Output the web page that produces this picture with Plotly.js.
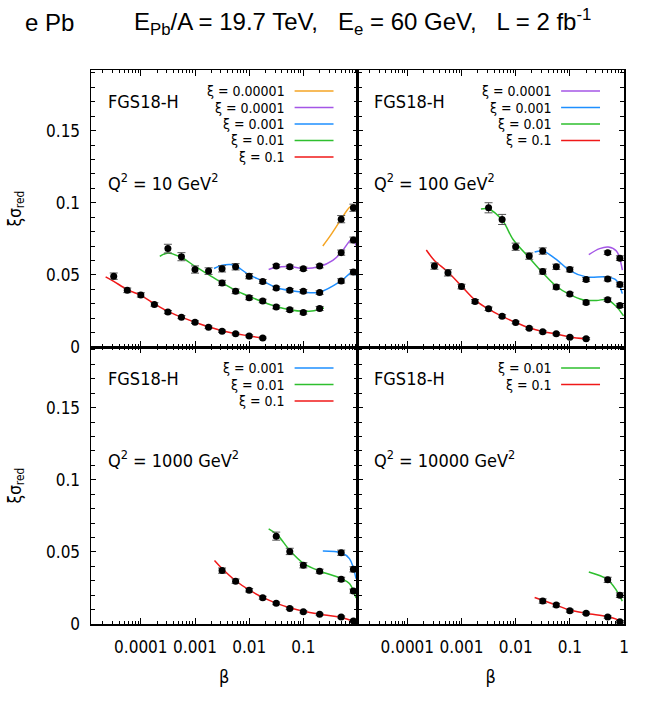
<!DOCTYPE html>
<html><head><meta charset="utf-8">
<script src="https://cdn.plot.ly/plotly-3.0.1.min.js"></script>
<style>html,body{margin:0;padding:0;background:#fff}#chart{width:648px;height:709px}</style>
</head><body><div id="chart"></div>
<script>
// ---------- Q2 = 10 GeV2 ----------
const q10_r_beta = [3.16e-5,5.62e-5,1e-4,1.78e-4,3.16e-4,5.62e-4,1e-3,1.78e-3,3.16e-3,5.62e-3,0.01,0.0178];
const q10_r_val  = [0.0491,0.0393,0.0361,0.0295,0.0242,0.0207,0.0172,0.0137,0.0109,0.0091,0.0077,0.0063];
const q10_r_err  = [0.0022,0.0016,0.0015,0.0012,0.0011,0.0010,0.0009,0.0008,0.0008,0.0007,0.0007,0.0006];
const q10_r_cb   = [2.24e-5,3.16e-5,5.62e-5,1e-4,1.78e-4,3.16e-4,5.62e-4,1e-3,1.78e-3,3.16e-3,5.62e-3,0.01,0.0204];
const q10_r_cv   = [0.0486,0.0455,0.0398,0.0358,0.0300,0.0247,0.0207,0.0172,0.0140,0.0113,0.0092,0.0077,0.0058];

const q10_g_beta = [3.16e-4,5.62e-4,1e-3,1.78e-3,3.16e-3,5.62e-3,0.01,0.0178,0.0316,0.0562,0.1,0.2];
const q10_g_val  = [0.0682,0.0626,0.0537,0.0526,0.0444,0.0386,0.0342,0.0319,0.0277,0.0258,0.0240,0.0267];
const q10_g_err  = [0.0030,0.0028,0.0025,0.0023,0.0018,0.0016,0.0014,0.0012,0.0012,0.0012,0.0012,0.0014];
const q10_g_cb   = [2.24e-4,3.16e-4,5.62e-4,1e-3,1.78e-3,3.16e-3,5.62e-3,0.01,0.0178,0.0316,0.0562,0.1,0.158,0.24];
const q10_g_cv   = [0.0628,0.0652,0.0620,0.0560,0.0502,0.0444,0.0393,0.0351,0.0312,0.0281,0.0258,0.0247,0.0252,0.0270];

const q10_b_beta = [3.16e-3,5.62e-3,0.01,0.0178,0.0316,0.0562,0.1,0.2,0.5,0.84];
const q10_b_val  = [0.0542,0.0556,0.0491,0.0454,0.0409,0.0393,0.0386,0.0377,0.0458,0.0519];
const q10_b_err  = [0.0022,0.0022,0.0018,0.0014,0.0012,0.0012,0.0012,0.0012,0.0015,0.0018];
const q10_b_cb   = [2.24e-3,3.16e-3,4.47e-3,5.62e-3,0.01,0.0178,0.0316,0.0562,0.1,0.2,0.5,0.79,0.95];
const q10_b_cv   = [0.0544,0.0566,0.0572,0.0563,0.0500,0.0458,0.0412,0.0391,0.0380,0.0380,0.0458,0.0516,0.0498];

const q10_p_beta = [0.0316,0.0562,0.1,0.2,0.5,0.84];
const q10_p_val  = [0.0561,0.0556,0.0542,0.0561,0.0654,0.0742];
const q10_p_err  = [0.0012,0.0012,0.0012,0.0012,0.0018,0.0020];
const q10_p_cb   = [0.0229,0.0316,0.0562,0.1,0.2,0.35,0.5,0.7,0.8,0.96];
const q10_p_cv   = [0.0537,0.0552,0.0558,0.0545,0.0558,0.0600,0.0655,0.0730,0.0745,0.0700];

const q10_o_beta = [0.5,0.84];
const q10_o_val  = [0.0886,0.0965];
const q10_o_err  = [0.0025,0.0025];
const q10_o_cb   = [0.229,0.32,0.5,0.7,0.85,0.96];
const q10_o_cv   = [0.0700,0.0775,0.0886,0.0965,0.0985,0.0970];

// ---------- Q2 = 100 GeV2 ----------
const q100_r_beta = [3.16e-4,5.62e-4,1e-3,1.78e-3,3.16e-3,5.62e-3,0.01,0.0178,0.0316,0.0562,0.1,0.2];
const q100_r_val  = [0.0561,0.0514,0.0419,0.0316,0.0265,0.0214,0.0170,0.0130,0.0105,0.0091,0.0067,0.0058];
const q100_r_err  = [0.0022,0.0022,0.0016,0.0013,0.0012,0.0010,0.0009,0.0008,0.0008,0.0007,0.0007,0.0007];
const q100_r_cb   = [2.24e-4,3.16e-4,5.62e-4,1e-3,1.78e-3,3.16e-3,5.62e-3,0.01,0.0178,0.0316,0.0562,0.1,0.2];
const q100_r_cv   = [0.0672,0.0600,0.0520,0.0422,0.0325,0.0262,0.0212,0.0170,0.0133,0.0107,0.0090,0.0070,0.0057];

const q100_g_beta = [3.16e-3,5.62e-3,0.01,0.0178,0.0316,0.0562,0.1,0.2,0.5,0.84];
const q100_g_val  = [0.0965,0.0884,0.0695,0.0630,0.0523,0.0416,0.0367,0.0309,0.0328,0.0288];
const q100_g_err  = [0.0035,0.0035,0.0025,0.0022,0.0018,0.0015,0.0012,0.0012,0.0012,0.0014];
const q100_g_cb   = [2.29e-3,3.16e-3,5.75e-3,8.9e-3,0.0178,0.0316,0.0562,0.1,0.174,0.31,0.49,0.72,0.98];
const q100_g_cv   = [0.0956,0.0956,0.0875,0.0747,0.0619,0.0514,0.0421,0.0363,0.0328,0.0323,0.0328,0.0281,0.0216];

const q100_b_beta = [0.0316,0.0562,0.1,0.2,0.5,0.84];
const q100_b_val  = [0.0665,0.0556,0.0537,0.0468,0.0472,0.0433];
const q100_b_err  = [0.0022,0.0018,0.0016,0.0014,0.0014,0.0016];
const q100_b_cb   = [0.0224,0.0316,0.0562,0.1,0.2,0.49,0.72,0.93];
const q100_b_cv   = [0.0658,0.0665,0.0607,0.0530,0.0486,0.0486,0.0463,0.0370];

const q100_p_beta = [0.5,0.84];
const q100_p_val  = [0.0654,0.0616];
const q100_p_err  = [0.0012,0.0016];
const q100_p_cb   = [0.224,0.355,0.513,0.724,0.933];
const q100_p_cv   = [0.0640,0.0682,0.0693,0.0665,0.0533];

// ---------- Q2 = 1000 GeV2 ----------
const q1000_r_beta = [3.16e-3,5.62e-3,0.01,0.0178,0.0316,0.0562,0.1,0.2,0.5,0.84];
const q1000_r_val  = [0.0370,0.0297,0.0234,0.0182,0.0143,0.0108,0.0085,0.0067,0.0048,0.0021];
const q1000_r_err  = [0.0018,0.0015,0.0012,0.0010,0.0009,0.0008,0.0008,0.0007,0.0007,0.0008];
const q1000_r_cb   = [2.29e-3,3.16e-3,5.62e-3,0.01,0.0178,0.0316,0.0562,0.1,0.2,0.4,0.63,0.94];
const q1000_r_cv   = [0.0441,0.0385,0.0300,0.0236,0.0185,0.0145,0.0112,0.0088,0.0068,0.0052,0.0035,0.0011];

const q1000_g_beta = [0.0316,0.0562,0.1,0.2,0.5,0.84];
const q1000_g_val  = [0.0609,0.0503,0.0407,0.0366,0.0310,0.0228];
const q1000_g_err  = [0.0028,0.0022,0.0018,0.0014,0.0014,0.0014];
const q1000_g_cb   = [0.0229,0.0331,0.0562,0.102,0.204,0.5,0.71,0.94];
const q1000_g_cv   = [0.0660,0.0618,0.0510,0.0418,0.0366,0.0315,0.0280,0.0180];

const q1000_b_beta = [0.5,0.84];
const q1000_b_val  = [0.0494,0.0379];
const q1000_b_err  = [0.0018,0.0018];
const q1000_b_cb   = [0.229,0.5,0.71,0.94];
const q1000_b_cv   = [0.0506,0.0494,0.0453,0.0315];

// ---------- Q2 = 10000 GeV2 ----------
const q10000_r_beta = [0.0316,0.0562,0.1,0.2,0.5,0.84];
const q10000_r_val  = [0.0159,0.0131,0.0092,0.0074,0.0048,0.0016];
const q10000_r_err  = [0.0015,0.0012,0.0010,0.0008,0.0008,0.0008];
const q10000_r_cb   = [0.0224,0.0324,0.0562,0.1,0.2,0.49,0.72,0.93];
const q10000_r_cv   = [0.0184,0.0163,0.0131,0.0097,0.0074,0.0051,0.0034,0.0009];

const q10000_g_beta = [0.5,0.84];
const q10000_g_val  = [0.0306,0.0200];
const q10000_g_err  = [0.0018,0.0016];
const q10000_g_cb   = [0.224,0.49,0.72,0.93];
const q10000_g_cv   = [0.0361,0.0310,0.0235,0.0159];

// tick labels
const xTickVals = [1e-4,1e-3,1e-2,1e-1,1];
const xTickText = ['0.0001','0.001','0.01','0.1','1'];
const yTickVals = [0,0.05,0.1,0.15];
const yTickText = ['0','0.05','0.1','0.15'];
const xiColors = {'0.00001':'#f5a524','0.0001':'#a456e6','0.001':'#1e8fff','0.01':'#2ebf2e','0.1':'#f01818'};

const panels = [
  {xa:'x', ya:'y', q2:'10', series:[
    {xi:'0.00001', b:q10_o_beta, v:q10_o_val, e:q10_o_err, cb:q10_o_cb, cv:q10_o_cv},
    {xi:'0.0001', b:q10_p_beta, v:q10_p_val, e:q10_p_err, cb:q10_p_cb, cv:q10_p_cv},
    {xi:'0.001', b:q10_b_beta, v:q10_b_val, e:q10_b_err, cb:q10_b_cb, cv:q10_b_cv},
    {xi:'0.01', b:q10_g_beta, v:q10_g_val, e:q10_g_err, cb:q10_g_cb, cv:q10_g_cv},
    {xi:'0.1', b:q10_r_beta, v:q10_r_val, e:q10_r_err, cb:q10_r_cb, cv:q10_r_cv}]},
  {xa:'x2', ya:'y2', q2:'100', series:[
    {xi:'0.0001', b:q100_p_beta, v:q100_p_val, e:q100_p_err, cb:q100_p_cb, cv:q100_p_cv},
    {xi:'0.001', b:q100_b_beta, v:q100_b_val, e:q100_b_err, cb:q100_b_cb, cv:q100_b_cv},
    {xi:'0.01', b:q100_g_beta, v:q100_g_val, e:q100_g_err, cb:q100_g_cb, cv:q100_g_cv},
    {xi:'0.1', b:q100_r_beta, v:q100_r_val, e:q100_r_err, cb:q100_r_cb, cv:q100_r_cv}]},
  {xa:'x3', ya:'y3', q2:'1000', series:[
    {xi:'0.001', b:q1000_b_beta, v:q1000_b_val, e:q1000_b_err, cb:q1000_b_cb, cv:q1000_b_cv},
    {xi:'0.01', b:q1000_g_beta, v:q1000_g_val, e:q1000_g_err, cb:q1000_g_cb, cv:q1000_g_cv},
    {xi:'0.1', b:q1000_r_beta, v:q1000_r_val, e:q1000_r_err, cb:q1000_r_cb, cv:q1000_r_cv}]},
  {xa:'x4', ya:'y4', q2:'10000', series:[
    {xi:'0.01', b:q10000_g_beta, v:q10000_g_val, e:q10000_g_err, cb:q10000_g_cb, cv:q10000_g_cv},
    {xi:'0.1', b:q10000_r_beta, v:q10000_r_val, e:q10000_r_err, cb:q10000_r_cb, cv:q10000_r_cv}]}
];

const FONT = "'DejaVu Sans Condensed', 'Liberation Sans Narrow', 'DejaVu Sans', sans-serif";
const TFONT = "'Liberation Sans', Arial, sans-serif";
const traces = [];
const markerTraces = [];
const annotations = [];
const shapes = [];

panels.forEach(p => {
  p.series.forEach((s, i) => {
    const col = xiColors[s.xi];
    traces.push({type:'scatter', mode:'lines', x:s.cb, y:s.cv, xaxis:p.xa, yaxis:p.ya,
      line:{color:col, width:1.5, shape:'spline', smoothing:1}, showlegend:false, hoverinfo:'skip',
      name:'ξ = ' + s.xi});
    markerTraces.push({type:'scatter', mode:'markers', x:s.b, y:s.v, xaxis:p.xa, yaxis:p.ya,
      marker:{color:'#000', size:7}, showlegend:false,
      error_y:{type:'data', array:s.e, visible:true, color:'#555', thickness:1, width:4}});
    const ly = 0.924 - 0.0595 * i;
    annotations.push({xref:p.xa + ' domain', yref:p.ya + ' domain', x:0.733, y:ly,
      xanchor:'right', yanchor:'middle', showarrow:false, text:'ξ = ' + s.xi, borderpad:0,
      font:{family:FONT, size:14, color:'#000'}});
    shapes.push({type:'line', xref:p.xa + ' domain', yref:p.ya + ' domain',
      x0:0.764, x1:0.91, y0:ly, y1:ly, line:{color:col, width:1.6}});
  });
  annotations.push({xref:p.xa + ' domain', yref:p.ya + ' domain', x:0.056, y:0.886,
    xanchor:'left', yanchor:'middle', showarrow:false, text:'FGS18-H',
    font:{family:FONT, size:18, color:'#000'}});
  annotations.push({xref:p.xa + ' domain', yref:p.ya + ' domain', x:0.056, y:0.597,
    xanchor:'left', yanchor:'middle', showarrow:false,
    text:'Q<sup>2</sup> = ' + p.q2 + ' GeV<sup>2</sup>',
    font:{family:FONT, size:18, color:'#000'}});
});

annotations.push({xref:'paper', yref:'paper', x:-0.127, y:1.0866, xanchor:'left', yanchor:'middle',
  showarrow:false, text:'e Pb', font:{family:TFONT, size:24, color:'#000'}});

const xMinor = [];
for (let k = -5; k <= -1; k++) for (let d = 2; d <= 9; d++) xMinor.push(d * Math.pow(10, k));
const yMinor = [];
for (let k = 1; k <= 19; k++) yMinor.push(k / 100);

function xAxis(domain, anchor, showLabels, nLabels) {
  const ax = {type:'log', domain:domain, anchor:anchor, range:[-4.92, 0],
    showline:true, linecolor:'#000', linewidth:1.5, mirror:'allticks',
    ticks:'inside', ticklen:6, tickwidth:1, tickcolor:'#000',
    showgrid:false, zeroline:false,
    tickmode:'array', tickvals:xTickVals.slice(0, nLabels), ticktext:xTickText.slice(0, nLabels),
    showticklabels:showLabels, ticklabelstandoff:7,
    tickfont:{family:FONT, size:17, color:'#000'},
    minor:{tickmode:'array', tickvals:xMinor, ticks:'inside', ticklen:3, tickwidth:1, tickcolor:'#000', showgrid:false}
  };
  if (showLabels) ax.title = {text:'β', font:{family:FONT, size:18, color:'#000'}, standoff:14};
  return ax;
}
function yAxis(domain, anchor, showLabels) {
  const ax = {domain:domain, anchor:anchor, range:[0, 0.192],
    showline:true, linecolor:'#000', linewidth:1.5, mirror:'allticks',
    ticks:'inside', ticklen:5, tickwidth:1, tickcolor:'#000',
    showgrid:false, zeroline:false,
    tickmode:'array', tickvals:yTickVals, ticktext:yTickText,
    showticklabels:showLabels, ticklabelstandoff:6,
    tickfont:{family:FONT, size:17, color:'#000'},
    minor:{tickmode:'array', tickvals:yMinor, ticks:'inside', ticklen:4, tickwidth:1, tickcolor:'#000', showgrid:false}
  };
  if (showLabels) ax.title = {text:'ξσ<sub>red</sub>', font:{family:FONT, size:17, color:'#000'}, standoff:20};
  return ax;
}

const layout = {
  width:648, height:709,
  margin:{l:91, r:24, t:70, b:85},
  paper_bgcolor:'#fff', plot_bgcolor:'#fff',
  showlegend:false,
  font:{family:FONT, color:'#000'},
  title:{text:'E<sub>Pb</sub>/A = 19.7 TeV,\u00a0\u00a0\u00a0E<sub>e</sub> = 60 GeV,\u00a0\u00a0\u00a0L = 2 fb<sup>-1</sup>',
    xref:'container', yref:'container', x:134/648, xanchor:'left', y:1 - 22/709, yanchor:'middle',
    font:{family:TFONT, size:24, color:'#000'}},
  xaxis: xAxis([0, 0.5], 'y', false, 4),
  yaxis: yAxis([0.5, 1], 'x', true),
  xaxis2: xAxis([0.5, 1], 'y2', false, 5),
  yaxis2: yAxis([0.5, 1], 'x2', false),
  xaxis3: xAxis([0, 0.5], 'y3', true, 4),
  yaxis3: yAxis([0, 0.5], 'x3', true),
  xaxis4: xAxis([0.5, 1], 'y4', true, 5),
  yaxis4: yAxis([0, 0.5], 'x4', false),
  annotations:annotations,
  shapes:shapes
};

Plotly.newPlot('chart', traces.concat(markerTraces), layout, {displayModeBar:false, staticPlot:true});
</script></body></html>
